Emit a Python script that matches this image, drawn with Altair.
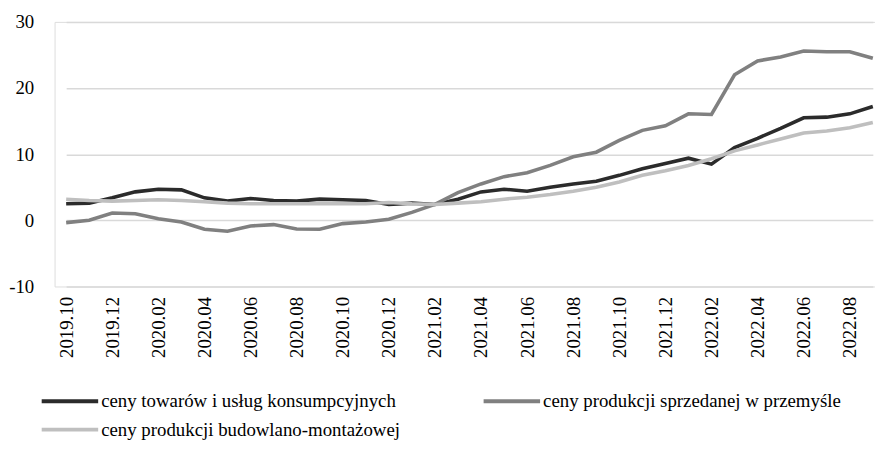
import altair as alt
import pandas as pd

months = [
    "2019.10", "2019.11", "2019.12",
    "2020.01", "2020.02", "2020.03", "2020.04", "2020.05", "2020.06",
    "2020.07", "2020.08", "2020.09", "2020.10", "2020.11", "2020.12",
    "2021.01", "2021.02", "2021.03", "2021.04", "2021.05", "2021.06",
    "2021.07", "2021.08", "2021.09", "2021.10", "2021.11", "2021.12",
    "2022.01", "2022.02", "2022.03", "2022.04", "2022.05", "2022.06",
    "2022.07", "2022.08", "2022.09",
]

series_names = [
    "ceny towarów i usług konsumpcyjnych",
    "ceny produkcji sprzedanej w przemyśle",
    "ceny produkcji budowlano-montażowej",
]

cpi = [2.5, 2.6, 3.4, 4.3, 4.7, 4.6, 3.4, 2.9, 3.3, 3.0, 2.9, 3.2,
       3.1, 3.0, 2.4, 2.6, 2.4, 3.2, 4.3, 4.7, 4.4, 5.0, 5.5, 5.9,
       6.8, 7.8, 8.6, 9.4, 8.5, 11.0, 12.4, 13.9, 15.5, 15.6, 16.1, 17.2]

ppi = [-0.35, 0.0, 1.1, 1.0, 0.25, -0.25, -1.35, -1.65, -0.85, -0.65, -1.3, -1.35,
       -0.5, -0.25, 0.15, 1.2, 2.4, 4.2, 5.5, 6.6, 7.2, 8.3, 9.6, 10.3,
       12.1, 13.6, 14.3, 16.1, 16.0, 22.0, 24.1, 24.7, 25.6, 25.5, 25.5, 24.5]

construction = [3.2, 3.0, 2.9, 3.0, 3.1, 3.0, 2.8, 2.6, 2.5, 2.5, 2.5, 2.5,
                2.5, 2.5, 2.7, 2.5, 2.4, 2.6, 2.8, 3.2, 3.5, 3.9, 4.4, 5.0,
                5.8, 6.8, 7.5, 8.3, 9.3, 10.5, 11.4, 12.3, 13.2, 13.5, 14.0, 14.8]

tick_labels = months[::2]
y_ticks = [-10, 0, 10, 20, 30]

series_colors = {
    series_names[0]: "#2b2b2b",
    series_names[1]: "#808080",
    series_names[2]: "#bfbfbf",
}
# legend fills column by column: this order gives rows [0, 1] / [2]
legend_order = [series_names[0], series_names[2], series_names[1]]

rows = []
for name, vals in zip(series_names, [cpi, ppi, construction]):
    for m, v in zip(months, vals):
        rows.append({"miesiac": m, "wartosc": v, "seria": name})
df = pd.DataFrame(rows)

FONT = "Liberation Serif"

chart = (
    alt.Chart(df)
    .mark_line(strokeWidth=3.6, strokeJoin="miter")
    .encode(
        x=alt.X(
            "miesiac:O",
            sort=months,
            scale=alt.Scale(type="point", padding=0, range=[11.7, 825.8]),
            axis=alt.Axis(
                values=tick_labels,
                labelAngle=270,
                ticks=False,
                domain=False,
                grid=False,
                title=None,
                labelPadding=10,
                labelFont=FONT,
                labelFontSize=19,
                labelColor="#000000",
            ),
        ),
        y=alt.Y(
            "wartosc:Q",
            scale=alt.Scale(domain=[-10, 30], nice=False),
            axis=alt.Axis(
                values=y_ticks,
                labelExpr="datum.value + ''",
                ticks=False,
                domain=False,
                grid=True,
                gridColor="#d9d9d9",
                gridWidth=1.5,
                title=None,
                labelPadding=21,
                labelFont=FONT,
                labelFontSize=19,
                labelColor="#000000",
            ),
        ),
        color=alt.Color(
            "seria:N",
            scale=alt.Scale(
                domain=legend_order,
                range=[series_colors[n] for n in legend_order],
            ),
            legend=alt.Legend(
                title=None,
                orient="none",
                legendX=4,
                legendY=371,
                columns=2,
                columnPadding=76,
                rowPadding=7,
                symbolType="M-3,0H3",
                symbolSize=361,
                symbolStrokeWidth=4,
                labelOffset=20,
                labelFont=FONT,
                labelFontSize=19,
                labelColor="#000000",
                labelLimit=0,
                padding=0,
            ),
        ),
    )
    .properties(
        width=828,
        height=267,
        autosize=alt.AutoSizeParams(type="none"),
        padding={"left": 47, "top": 12, "right": 0, "bottom": 161},
    )
    .configure_view(stroke=None)
    .configure(background="#ffffff")
)

chart.save("out.html", embed_options={"renderer": "svg", "actions": False})
